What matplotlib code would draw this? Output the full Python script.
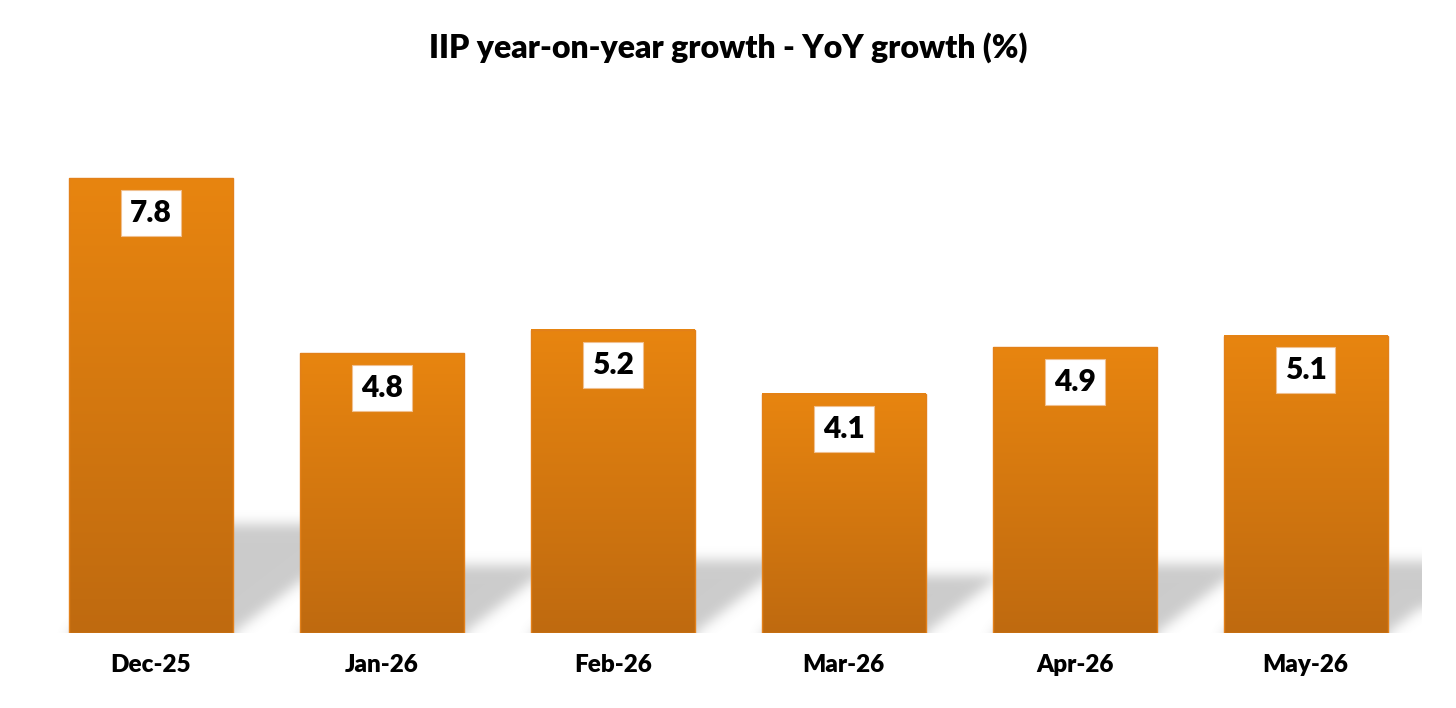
import numpy as np
import matplotlib.pyplot as plt
from matplotlib.colors import LinearSegmentedColormap

months = ['Dec-25', 'Jan-26', 'Feb-26', 'Mar-26', 'Apr-26', 'May-26']
growth = [7.8, 4.8, 5.2, 4.1, 4.9, 5.1]

title = 'IIP year-on-year growth - YoY growth (%)'

plt.rcParams['font.family'] = ['Lato', 'DejaVu Sans']

fig = plt.figure(figsize=(14.56, 7.08), dpi=100)
ax = fig.add_axes([35.5 / 1456, 75 / 708, 1385.5 / 1456, 9 * 58.3 / 708])
ax.set_xlim(-0.5, 5.5)
ax.set_ylim(0, 9)

x = np.arange(len(months))
bars = ax.bar(x, growth, width=0.71, facecolor='none', edgecolor='#e2801a',
              linewidth=1.0, zorder=3)

# soft perspective shadow behind each bar
nx, ny = 1386, 525
gx = np.linspace(-0.5, 5.5, nx)
gy = np.linspace(0, 9, ny)
XX, YY = np.meshgrid(gx, gy)
skew = 1.3 * 58.3 / 231
mask = np.zeros((ny, nx))
for b in bars:
    x0 = b.get_x()
    x1 = x0 + b.get_width()
    sh = 0.24 * b.get_height()
    inside = (YY <= sh) & (XX >= x0 + skew * YY) & (XX <= x1 + skew * YY)
    mask[inside] = 1.0

sig = 6
k = np.exp(-0.5 * (np.arange(-3 * sig, 3 * sig + 1) / sig) ** 2)
k /= k.sum()
pad = 3 * sig
m = np.pad(mask, pad, mode='edge')
m = np.apply_along_axis(lambda r: np.convolve(r, k, mode='same'), 1, m)
m = np.apply_along_axis(lambda c: np.convolve(c, k, mode='same'), 0, m)
m = m[pad:-pad, pad:-pad]
shadow = np.zeros((ny, nx, 4))
shadow[..., :3] = 0.5
shadow[..., 3] = m * 0.4
ax.imshow(shadow, extent=(-0.5, 5.5, 0, 9), origin='lower', aspect='auto',
          zorder=1, interpolation='bilinear')

# vertical orange gradient in each bar
cmap = LinearSegmentedColormap.from_list('org', ['#bf6a10', '#e8850f'])
grad = np.linspace(0, 1, 256).reshape(-1, 1)
for b in bars:
    ax.imshow(grad, cmap=cmap, extent=(b.get_x(), b.get_x() + b.get_width(), 0, b.get_height()),
              origin='lower', aspect='auto', zorder=2)

for xi, v in zip(x, growth):
    ax.annotate(f'{v:.1f}', xy=(xi, v), xytext=(0, -25), textcoords='offset points',
                ha='center', va='center', fontsize=21.5, fontweight='heavy', color='black',
                bbox=dict(boxstyle='square,pad=0.3', facecolor='white', edgecolor='#f0c090',
                          linewidth=0.8), zorder=4)

ax.set_xlim(-0.5, 5.5)
ax.set_ylim(0, 9)
ax.set_xticks(x)
ax.set_xticklabels(months, fontsize=17.5, fontweight='heavy')
ax.tick_params(axis='x', length=0, pad=15)
ax.set_yticks([])
for s in ax.spines.values():
    s.set_visible(False)

fig.text(0.5, 1 - 48 / 708, title, ha='center', va='center', fontsize=23, fontweight='heavy')

fig.savefig('out.png', dpi=100)
